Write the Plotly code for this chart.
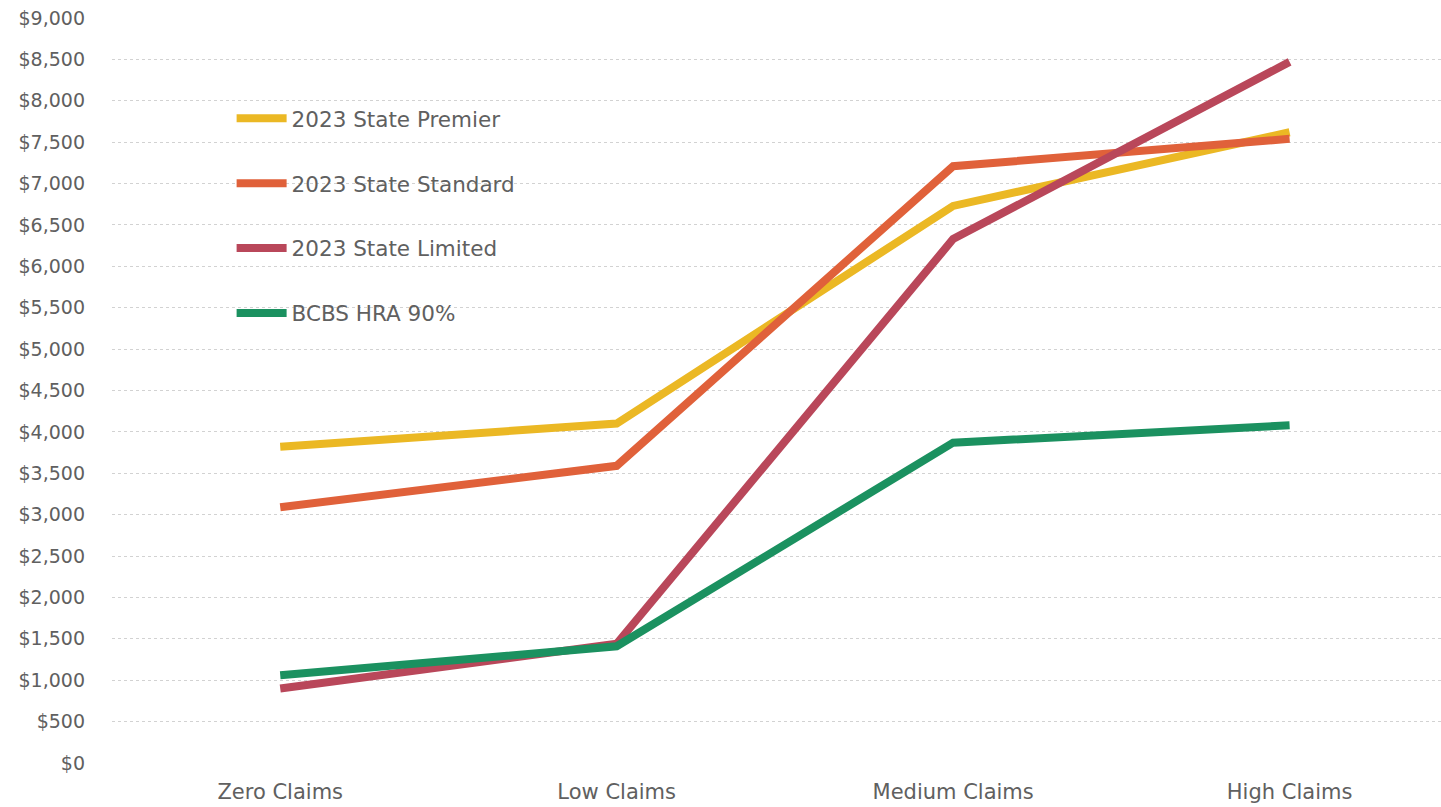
import plotly.graph_objects as go

categories = ["Zero Claims", "Low Claims", "Medium Claims", "High Claims"]
premier = [3820, 4100, 6730, 7620]
standard = [3090, 3590, 7210, 7540]
limited = [900, 1440, 6330, 8470]
bcbs = [1060, 1410, 3870, 4080]

series = [
    ("2023 State Premier", premier, "#EBB824"),
    ("2023 State Standard", standard, "#E0613A"),
    ("2023 State Limited", limited, "#B9475A"),
    ("BCBS HRA 90%", bcbs, "#1B9160"),
]

font_family = "'DejaVu Sans', sans-serif"
txt_color = "#606060"

fig = go.Figure()
for i, (name, vals, color) in enumerate(series):
    fig.add_trace(go.Scatter(
        x=categories, y=vals, name=name, mode="lines",
        line=dict(color=color, width=8),
        legendgroup=f"g{i}",
    ))

fig.update_layout(
    width=1441, height=807,
    margin=dict(l=112, r=0, t=18, b=44),
    paper_bgcolor="white", plot_bgcolor="white",
    font=dict(family=font_family, color=txt_color, size=19),
    showlegend=True,
    legend=dict(
        x=0.09, y=0.893, xanchor="left", yanchor="top",
        bgcolor="rgba(0,0,0,0)",
        font=dict(size=21.5, color=txt_color),
        tracegroupgap=34,
        itemwidth=50,
    ),
    xaxis=dict(
        type="category", range=[-0.5, 3.45],
        showgrid=False, showline=False, zeroline=False,
        tickfont=dict(size=21, color=txt_color),
        ticks="", ticklen=0, ticklabelstandoff=14,
    ),
    yaxis=dict(
        range=[0, 9000], dtick=500,
        tickprefix="$", tickformat=",d",
        showgrid=True, gridcolor="#d2d2d2", griddash="dot", gridwidth=1,
        zeroline=False, showline=False,
        tickfont=dict(size=19, color=txt_color),
        ticks="", ticklabelstandoff=26,
    ),
)

fig.write_html("out.html")
